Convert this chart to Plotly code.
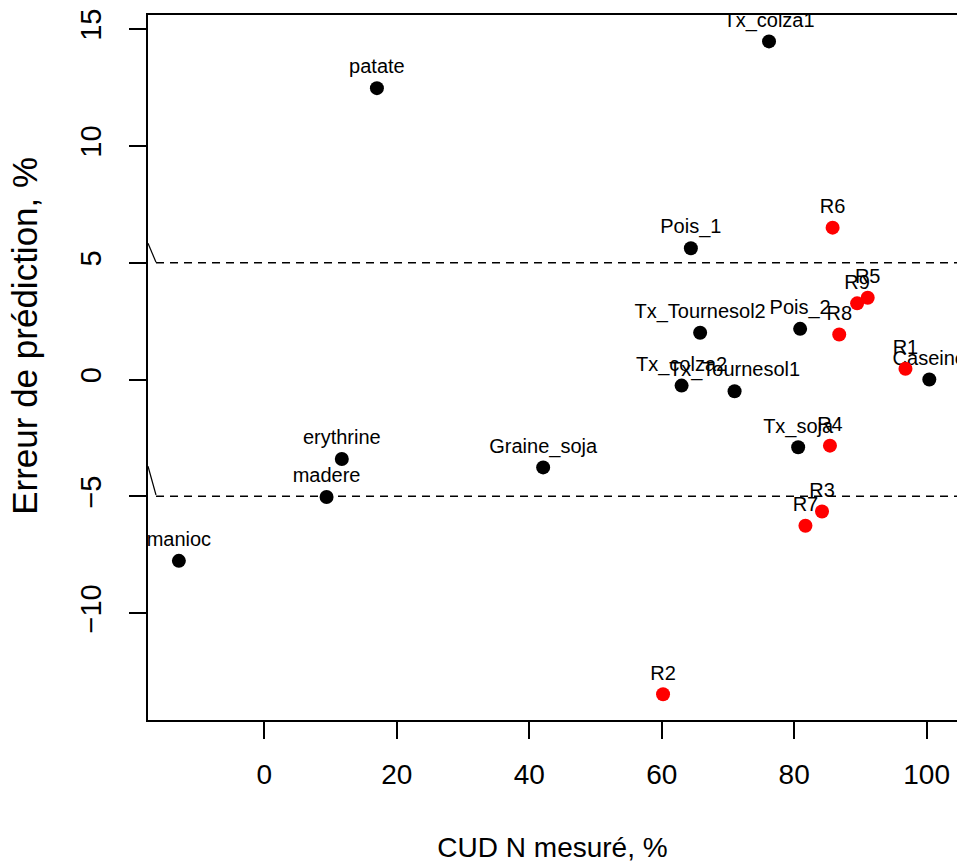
import plotly.graph_objects as go

# Measured digestibility (x) and prediction error (y), labelled by ingredient
names_ref = ["manioc", "madere", "erythrine", "patate", "Graine_soja", "Tx_colza2",
             "Pois_1", "Tx_Tournesol2", "Tx_Tournesol1", "Tx_colza1", "Tx_soja",
             "Pois_2", "Caseine"]
cud_ref = [-12.9, 9.4, 11.7, 17.0, 42.1, 63.0, 64.4, 65.8, 71.0, 76.2, 80.6, 80.9, 100.4]
err_ref = [-7.76, -5.03, -3.40, 12.47, -3.76, -0.26, 5.62, 2.00, -0.50, 14.47, -2.90, 2.17, 0.0]

names_r = ["R2", "R7", "R3", "R4", "R6", "R8", "R9", "R5", "R1"]
cud_r = [60.2, 81.7, 84.2, 85.4, 85.8, 86.8, 89.5, 91.1, 96.8]
err_r = [-13.47, -6.26, -5.65, -2.83, 6.50, 1.93, 3.26, 3.50, 0.46]

limits = [-5, 5]
x_ticks = [0, 20, 40, 60, 80, 100]
y_ticks = [-10, -5, 0, 5, 10, 15]

FONT = "Liberation Sans, Arial, sans-serif"

fig = go.Figure()
for xs, ys, labels, col in [(cud_ref, err_ref, names_ref, "black"),
                            (cud_r, err_r, names_r, "#ff0000")]:
    fig.add_trace(go.Scatter(
        x=xs, y=ys, text=labels, mode="markers+text",
        textposition="top center",
        textfont=dict(family=FONT, size=20, color="black"),
        marker=dict(size=14, color=col),
        cliponaxis=True, showlegend=False, hoverinfo="skip"))

# dashed limits of acceptable error
for h in limits:
    fig.add_shape(type="line", xref="paper", yref="y", x0=0.0099, x1=1, y0=h, y1=h,
                  line=dict(color="black", width=1.5, dash="8px,6px"))

# small break marks on the left axis
for y0, y1 in [(5.83, 5.02), (-3.71, -4.94)]:
    fig.add_shape(type="line", xref="paper", yref="y", x0=0, x1=0.0099, y0=y0, y1=y1,
                  line=dict(color="black", width=1.2))

# vertical y-axis title
fig.add_annotation(text="Erreur de prédiction, %", xref="paper", yref="paper",
                   x=-0.152, y=0.545, xanchor="center", yanchor="middle",
                   textangle=-90, showarrow=False,
                   font=dict(size=35, family=FONT, color="black"))

fig.update_layout(
    width=957, height=865,
    margin=dict(l=148, r=0, t=15, b=145),
    paper_bgcolor="white", plot_bgcolor="white",
    font=dict(family=FONT, color="black"),
    xaxis=dict(range=[-17.56, 104.58], tickvals=x_ticks, ticks="outside", ticklen=17,
               tickwidth=1.5, tickcolor="black", showline=True, linecolor="black",
               linewidth=2, mirror=True, showgrid=False, zeroline=False,
               tickfont=dict(size=28, family=FONT), ticklabelstandoff=11,
               title=dict(text="CUD N mesuré, %", font=dict(size=28, family=FONT), standoff=49)),
    yaxis=dict(range=[-14.57, 15.6], tickvals=y_ticks, ticks="outside", ticklen=17,
               tickwidth=1.5, tickcolor="black", showline=True, linecolor="black",
               linewidth=2, mirror=False, showgrid=False, zeroline=False,
               tickangle=-90, tickfont=dict(size=29, family=FONT), ticklabelstandoff=16),
)

fig.write_html("out.html")
